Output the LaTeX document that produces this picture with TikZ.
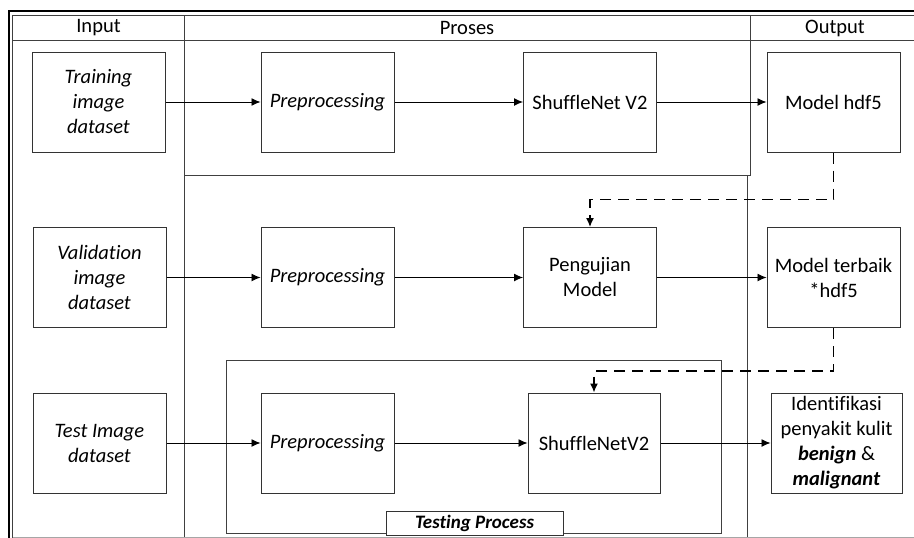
\documentclass[tikz,border=0pt]{standalone}
\usepackage{fontspec}
\setmainfont{Carlito}[Ligatures=NoCommon]
\usepackage{tikz}
\usetikzlibrary{positioning, arrows.meta}
\newcommand{\dfont}{\fontsize{20.5}{25}\selectfont}

\begin{document}
\begin{tikzpicture}[
    x=1pt, y=-1pt,
    box/.style={draw=black!80, line width=1pt, minimum width=133pt, minimum height=100pt, inner sep=1pt, align=center, font=\dfont},
    ibox/.style={box, font=\dfont\itshape},
    frame/.style={draw=black!75, line width=1pt},
    flow/.style={->, line width=0.9pt},
    back/.style={->, line width=1.4pt, dash pattern=on 11pt off 7pt},
    head/.style={font=\dfont},
    >={Latex[length=9pt,width=8pt]}
    ]
    \useasboundingbox (0,0) rectangle (914,538);

    % frame and columns
    \draw[line width=2pt] (8.5,538) -- (8.5,11) -- (914,11);
    \draw[frame] (12.5,538) -- (12.5,15.5) -- (914,15.5);
    \draw[frame] (12.5,40) -- (914,40);
    \draw[frame] (184,15.5) -- (184,538);
    \draw[frame] (750,15.5) -- (750,175) -- (184,175);
    \draw[frame] (747,175) -- (747,538);
    \draw[draw=black!35, line width=0.8pt] (12.5,537.5) -- (914,537.5);

    \node[head] (hin) at (98.5,28) {Input};
    \node[head] (hpr) at (467,28) {Proses};
    \node[head] (hout) at (835,28) {Output};

    % testing process
    \draw[frame] (226,360) rectangle (721,533);

    % input column
    \node[ibox] (in1) at (98.5,102) {Training\\image\\dataset};
    \node[ibox] (in2) at (99.5,277.5) {Validation\\image\\dataset};
    \node[ibox] (in3) at (99.5,443) {Test Image\\dataset};

    \foreach \r/\y in {1/102, 2/277.5, 3/443}
        \node[ibox] (pp\r) at (327.5,\y) {Preprocessing};

    \node[box] (mid1) at (590,102) {ShuffleNet V2};
    \node[box] (mid2) at (590,277.5) {Pengujian\\Model};
    \node[box, minimum width=132pt] (mid3) at (594,443) {ShuffleNetV2};

    % output column
    \node[box] (out1) at (833.5,102) {Model hdf5};
    \node[box] (out2) at (833.5,277.5) {Model terbaik\\*hdf5};
    \node[box, minimum width=131pt, inner sep=0pt] (out3) at (836.5,443) {Identifikasi\\penyakit kulit\\\textbf{\textit{benign}} \&\\\textbf{\textit{malignant}}};

    \foreach \r in {1,2,3} {
        \draw[flow] (in\r.east) -- (pp\r.west);
        \draw[flow] (pp\r.east) -- (mid\r.west);
        \draw[flow] (mid\r.east) -- (out\r.west);
    }

    \draw[back] (out1.south) -- ++(0,47) -| (mid2.north);
    \draw[back] (out2.south) -- ++(0,43) -| (mid3.north);

    \node[draw=black!80, line width=1pt, fill=white, minimum width=177pt, minimum height=24pt, inner sep=0pt,
          font=\fontsize{19}{22}\selectfont\bfseries\itshape] (tproc) at (474.5,523) {Testing Process};
\end{tikzpicture}
\end{document}
